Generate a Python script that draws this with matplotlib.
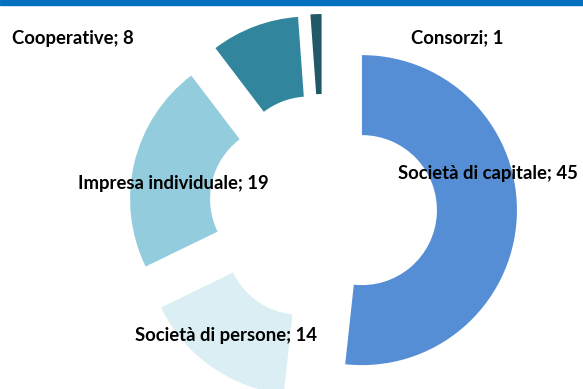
import matplotlib.pyplot as plt
from matplotlib.patches import Rectangle

# Distribuzione per forma giuridica
categorie = ["Società di capitale", "Società di persone", "Impresa individuale",
             "Cooperative", "Consorzi"]
valori = [45, 14, 19, 8, 1]
colori = ["#558ED5", "#DBEEF4", "#93CDDD", "#31859C", "#215968"]

# posizione delle etichette (pixel, origine in basso a sinistra)
pos_etichette = [(488, 216), (226, 53), (173, 206), (73, 351), (457, 351)]

W, H = 583, 389
fig = plt.figure(figsize=(W / 100, H / 100), dpi=100)
ax = fig.add_axes([0, 0, 1, 1])

raggio = 155
ax.pie(valori, colors=colori, startangle=90, counterclock=False,
       center=(323, 181), radius=raggio, explode=[39] * len(valori),
       wedgeprops=dict(width=80, linewidth=0), frame=True)
ax.set_xlim(0, W)
ax.set_ylim(0, H)
ax.set_aspect("equal")
ax.axis("off")

# barra blu in alto
ax.add_patch(Rectangle((0, H - 5), W, 5, color="#0070C0", clip_on=False))

for nome, v, (x, y) in zip(categorie, valori, pos_etichette):
    ax.text(x, y, f"{nome}; {v}", ha="center", va="center",
            fontsize=13.3, fontweight="bold", family="Lato", color="black")

fig.savefig("out.png", dpi=100)
